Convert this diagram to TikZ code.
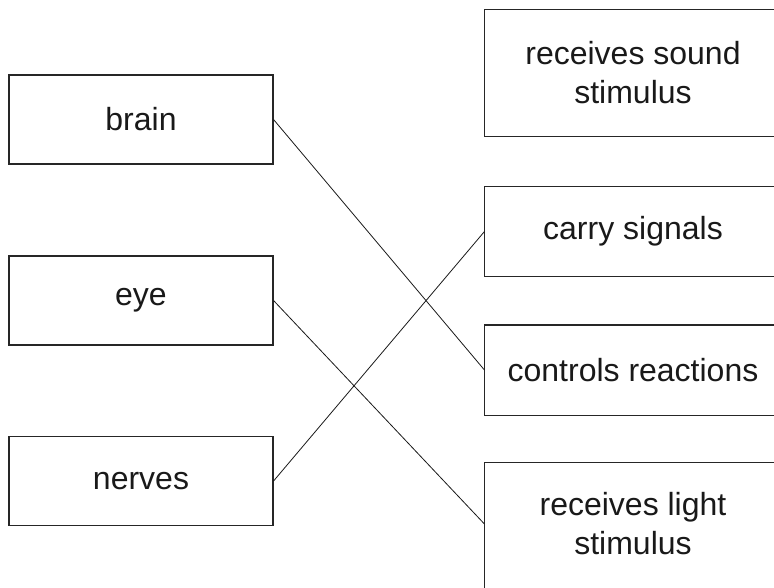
\documentclass[tikz,border=0pt]{standalone}
\usepackage{fontspec}
\setmainfont{Liberation Sans}

\begin{document}
\begin{tikzpicture}[x=1pt,y=-1pt,
  box/.style={draw=black!85, line width=1.1pt, minimum height=89pt, inner sep=0pt,
    align=center, text=black!90, font=\fontsize{32}{39}\selectfont},
  leftbox/.style={box, minimum width=264pt},
  rightbox/.style={box, draw=none, minimum width=296pt},
  frame/.style={draw=black!85, line width=1.1pt},
  link/.style={black!90, line width=0.8pt}]
\useasboundingbox (0,0) rectangle (774,587);
% left column
\node[leftbox] (brain) at (141,119.5) {brain};
\node[leftbox] (eye) at (141,300.5) {eye};
\node[leftbox] (nerves) at (141,481) {nerves};
% right column (boxes run off the right edge)
\node[rightbox, minimum height=126pt] (sound) at (633,73) {receives sound\\stimulus};
\node[rightbox] (carry) at (633,231.5) {carry signals};
\node[rightbox] (controls) at (633,370) {controls reactions};
\node[rightbox, minimum height=122pt] (light) at (633,524) {receives light\\stimulus};
\foreach \n in {sound,carry,controls}
  \draw[frame] (\n.north west) rectangle ([xshift=40pt]\n.south east);
\draw[frame] (light.north west) rectangle ([xshift=40pt,yshift=-20pt]light.south east);
% matching lines
\draw[link] (brain.east) -- (controls.west);
\draw[link] (eye.east) -- (light.west);
\draw[link] (nerves.east) -- (carry.west);
\end{tikzpicture}
\end{document}
